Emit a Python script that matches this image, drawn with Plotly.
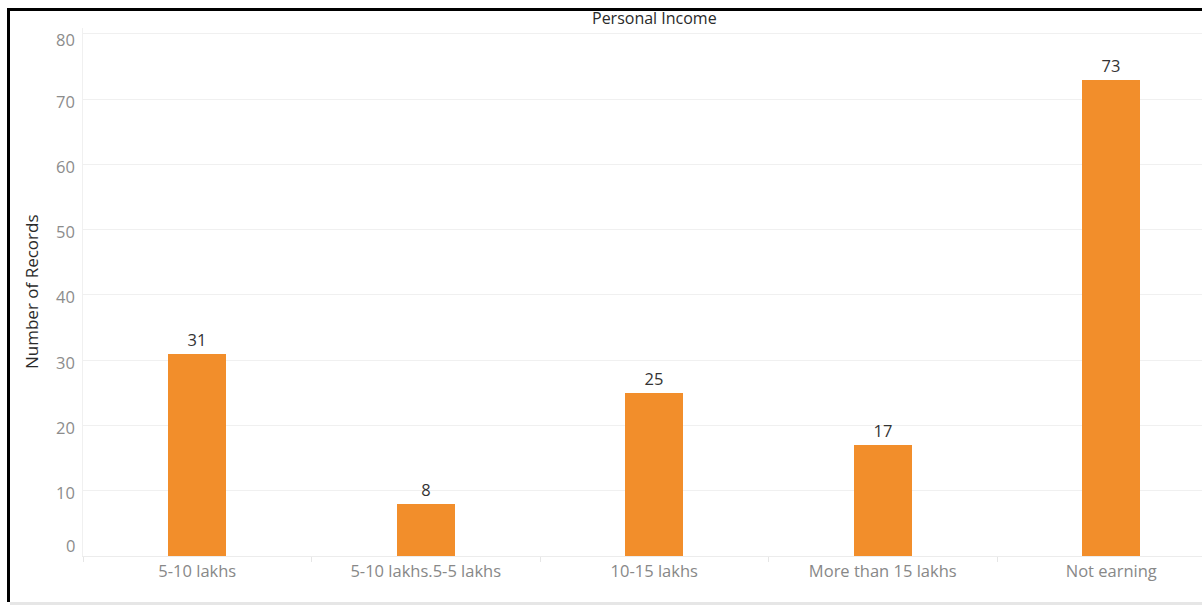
import plotly.graph_objects as go

# Personal income distribution
categories = ["5-10 lakhs", "5-10 lakhs.5-5 lakhs", "10-15 lakhs", "More than 15 lakhs", "Not earning"]
records = [31, 8, 25, 17, 73]
y_ticks = [0, 10, 20, 30, 40, 50, 60, 70, 80]

W, H = 1202, 605
ML, MT, MB = 83, 28, 49
plot_h = H - MT - MB
FONT = "Open Sans"
BAR = "#F28E2B"

fig = go.Figure()
fig.add_trace(go.Bar(
    x=categories, y=records, width=0.254,
    marker=dict(color=BAR, line=dict(width=0)),
    text=[str(v) for v in records], textposition="outside",
    textfont=dict(family=FONT, size=16.5, color="#333333"),
    cliponaxis=False, showlegend=False,
))

# visible x range is cut off on the right, as on a scrolled dashboard sheet
x_hi = 4.5 - (1225.5 - W) / 228.5
fig.update_xaxes(
    range=[-0.5, x_hi], showgrid=False, zeroline=False,
    showline=True, linecolor="#ececec", linewidth=1,
    ticks="outside", tickson="boundaries", ticklen=5, tickcolor="#e6e6e6",
    tickfont=dict(family=FONT, size=16.5, color="#888888"),
    ticklabelstandoff=0,
)
y_top = 80 + 6 / (plot_h / 80)
fig.update_yaxes(
    range=[0, y_top], tickvals=y_ticks, showticklabels=False,
    showgrid=True, gridcolor="#f0f0f0", gridwidth=1, zeroline=False,
    showline=True, linecolor="#f0f0f0", linewidth=1, ticks="",
)

# y tick labels (end labels nudged inside the plot band)
for v in y_ticks:
    if v == y_ticks[0]:
        shift = 11
    elif v == y_ticks[-1]:
        shift = -6
    else:
        shift = -2
    fig.add_annotation(x=0, xref="paper", xanchor="right", xshift=-6,
                       y=v, yref="y", yanchor="middle", yshift=shift,
                       text=str(v), showarrow=False,
                       font=dict(family=FONT, size=16.5, color="#8c8c8c"))

# axis title
fig.add_annotation(x=-(ML - 31) / (W - ML), xref="paper", xanchor="center",
                   y=0.5, yref="paper", yanchor="middle",
                   text="Number of Records", textangle=-90, showarrow=False,
                   font=dict(family=FONT, size=17, color="#2a2a2a"))
# sheet title
fig.add_annotation(x=(654 - ML) / (W - ML), xref="paper", xanchor="center",
                   y=1 + (MT - 18) / plot_h, yref="paper", yanchor="middle",
                   text="Personal Income", showarrow=False,
                   font=dict(family=FONT, size=16, color="#2a2a2a"))

# sheet frame: dark left/top edges, light strip at the bottom
fig.add_shape(type="line", xref="paper", yref="paper",
              x0=-(ML - 8.5) / (W - ML), x1=-(ML - 8.5) / (W - ML),
              y0=-(MB - 3) / plot_h, y1=1 + (MT - 8) / plot_h,
              line=dict(color="#000000", width=3))
fig.add_shape(type="line", xref="paper", yref="paper",
              x0=-(ML - 7) / (W - ML), x1=1.01,
              y0=1 + (MT - 9.5) / plot_h, y1=1 + (MT - 9.5) / plot_h,
              line=dict(color="#000000", width=3))
fig.add_shape(type="rect", xref="paper", yref="paper",
              x0=-(ML - 10) / (W - ML), x1=1.01,
              y0=-(MB + 2) / plot_h, y1=-(MB - 3) / plot_h,
              fillcolor="#e6e6e6", line=dict(width=0))

fig.update_layout(
    width=W, height=H, autosize=False,
    margin=dict(l=ML, r=0, t=MT, b=MB, pad=0),
    plot_bgcolor="white", paper_bgcolor="white",
    bargap=0, showlegend=False,
)

fig.write_html("out.html")
